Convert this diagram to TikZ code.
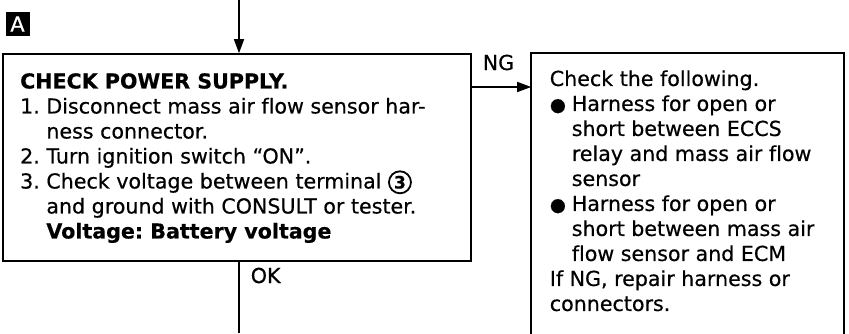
\documentclass[tikz,border=0pt]{standalone}
\usepackage{fontspec}
\setmainfont{DejaVu Sans}[Ligatures=CommonOff,FakeBold=0.5]
\usetikzlibrary{arrows.meta}
\newcommand\cnum[1]{\tikz[baseline=(cn.base)]\node[circle,draw,line width=1.8pt,inner sep=0pt,minimum size=22pt,font=\bfseries\fontsize{17}{17}\selectfont] (cn) {#1};}
\newcommand\bul{\makebox[22pt][l]{\scalebox{0.9}{●}}}
\newcommand\bsp{\hspace*{22pt}}
\begin{document}
\frenchspacing
\begin{tikzpicture}[x=1pt,y=-1pt,line width=1.6pt,
  txt/.style={font=\fontsize{20.6}{25}\selectfont,inner sep=0pt,align=left},
  box/.style={draw,rectangle,inner sep=0pt},
  arr/.style={-{Triangle[length=14pt,width=10pt]}}]
\useasboundingbox (0,0) rectangle (849,333);
% badge
\node[fill=black,minimum size=24pt,inner sep=0pt,text=white,font=\fontsize{21}{21}\selectfont] (A) at (17.5,24) {A};
% left box
\node[box,minimum width=468pt,minimum height=207pt] (lbox) at (237,157.5) {};
\node[txt,anchor=north west] (ltext) at (20,73) {%
{\bfseries CHECK POWER SUPPLY.}\\
1. Disconnect mass air flow sensor har-\\
\hphantom{1.\ }ness connector.\\
2. Turn ignition switch “ON”.\\
3. Check voltage between terminal \cnum{3}\\
\hphantom{3.\ }and ground with CONSULT or tester.\\
\hphantom{3.\ }{\bfseries Voltage: Battery voltage}};
% right box
\node[minimum width=311pt,minimum height=280pt,inner sep=0pt] (rbox) at (687.5,194) {};
\draw (rbox.south west) |- (rbox.north east) -- (rbox.south east);
\node[txt,anchor=north west] (rtext) at (549,69.5) {%
Check the following.\\
\bul Harness for open or\\
\bsp short between ECCS\\
\bsp relay and mass air flow\\
\bsp sensor\\
\bul Harness for open or\\
\bsp short between mass air\\
\bsp flow sensor and ECM\\
If NG, repair harness or\\
connectors.};
% connectors
\coordinate (top) at (239,0);
\draw[arr] (top) -- (top |- lbox.north);
\coordinate (bot) at (239,333);
\draw (bot |- lbox.south) -- (bot);
\node[txt,anchor=base west] (ok) at (250,283) {OK};
\coordinate (ngy) at (500,87);
\draw[arr] (lbox.east |- ngy) -- (rbox.west |- ngy);
\node[txt,anchor=base west] (ng) at (482,70) {NG};
\end{tikzpicture}
\end{document}
